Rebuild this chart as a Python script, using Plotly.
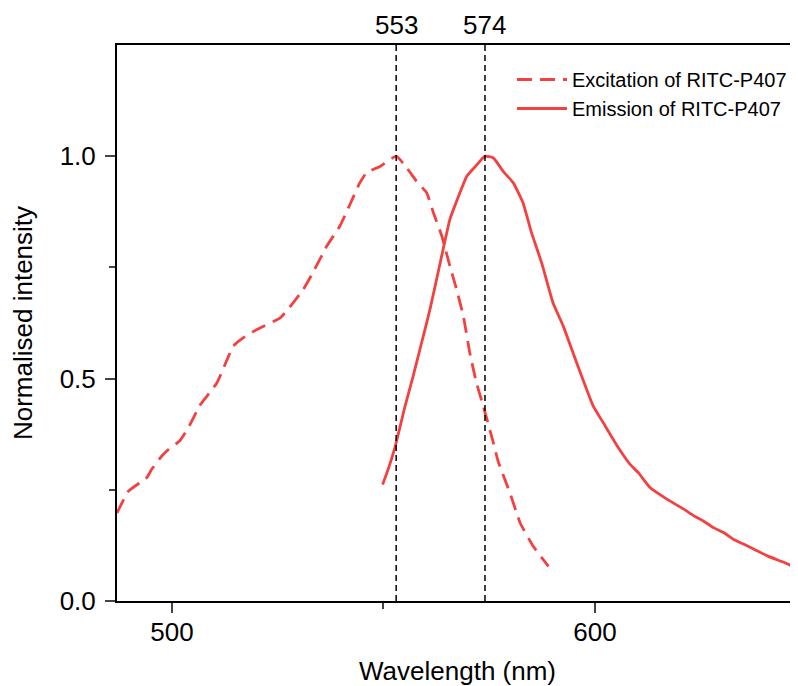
import plotly.graph_objects as go

# Excitation spectrum (dashed)
exc_nm = [487.0, 489.7, 494.0, 495.2, 497.6, 499.1, 501.9, 503.9, 506.6, 510.6,
          514.5, 516.9, 520.0, 525.5, 527.1, 531.0, 533.3, 536.6, 539.7, 542.1,
          544.4, 546.0, 549.2, 553.0, 555.5, 557.8, 560.2, 561.8, 563.8, 565.7,
          567.3, 568.9, 570.4, 572.0, 573.6, 576.0, 577.1, 579.9, 582.3, 585.4, 589.0]
exc_int = [0.198, 0.247, 0.277, 0.296, 0.326, 0.340, 0.361, 0.390, 0.440, 0.490,
           0.573, 0.592, 0.610, 0.636, 0.652, 0.700, 0.738, 0.798, 0.843, 0.892,
           0.940, 0.963, 0.977, 1.000, 0.974, 0.944, 0.918, 0.873, 0.820, 0.753,
           0.700, 0.640, 0.558, 0.490, 0.438, 0.355, 0.314, 0.243, 0.176, 0.123, 0.078]

# Emission spectrum (solid)
em_nm = [549.8, 551.1, 552.7, 555.1, 557.0, 559.0, 561.0, 563.4, 565.7, 567.3,
         569.7, 572.1, 574.0, 576.0, 578.3, 580.7, 583.0, 585.0, 587.4, 590.1,
         592.5, 595.7, 599.6, 602.0, 605.5, 608.3, 610.3, 613.0, 617.0, 620.9,
         623.3, 625.6, 628.0, 630.4, 632.7, 635.1, 637.5, 640.6, 644.6, 648.0, 650.0]
em_int = [0.262, 0.296, 0.345, 0.438, 0.505, 0.580, 0.656, 0.760, 0.858, 0.899,
          0.955, 0.981, 1.000, 0.996, 0.966, 0.940, 0.895, 0.828, 0.760, 0.670,
          0.618, 0.535, 0.438, 0.400, 0.345, 0.307, 0.288, 0.255, 0.229, 0.207,
          0.192, 0.180, 0.165, 0.154, 0.139, 0.128, 0.117, 0.102, 0.087, 0.073, 0.066]

peaks = [553, 574]

RED = '#F24141'
FONT = 'Liberation Sans, Arial, sans-serif'

fig = go.Figure()
fig.add_trace(go.Scatter(
    name='Excitation of RITC-P407', x=exc_nm, y=exc_int, mode='lines',
    line=dict(color=RED, width=2.8, dash='15px,8px', shape='spline', smoothing=0.4)))
fig.add_trace(go.Scatter(
    name='Emission of RITC-P407', x=em_nm, y=em_int, mode='lines',
    line=dict(color=RED, width=2.8, shape='spline', smoothing=0.4)))

for p in peaks:
    fig.add_shape(type='line', x0=p, x1=p, y0=0, y1=1, xref='x', yref='paper',
                  line=dict(color='black', width=1.5, dash='6px,4px'))
    fig.add_annotation(x=p, y=1, xref='x', yref='paper', text=str(p),
                       showarrow=False, yanchor='bottom', yshift=3,
                       font=dict(size=26, color='black', family=FONT))

# page body has an 8px margin, margins below account for it
fig.update_layout(
    width=790, height=678,
    margin=dict(l=109, r=0, t=37, b=85),
    plot_bgcolor='white', paper_bgcolor='white',
    font=dict(family=FONT, color='black', size=26),
    legend=dict(x=0.580, y=0.973, xanchor='left', yanchor='top',
                bgcolor='rgba(0,0,0,0)', font=dict(size=20),
                tracegroupgap=0, itemwidth=50),
    xaxis=dict(
        range=[487, 648], showgrid=False, zeroline=False,
        showline=True, linecolor='black', linewidth=2, mirror=True,
        tickvals=[500, 600], ticks='outside', ticklen=10, tickwidth=2,
        minor=dict(tickvals=[550], ticks='outside', ticklen=6, tickwidth=2),
        tickfont=dict(size=26), ticklabelstandoff=-3,
        title=dict(text='Wavelength (nm)', font=dict(size=26), standoff=22)),
    yaxis=dict(
        range=[0, 1.25], showgrid=False, zeroline=False,
        showline=True, linecolor='black', linewidth=2, mirror=False,
        tickvals=[0, 0.5, 1.0], ticktext=['0.0', '0.5', '1.0'],
        ticks='outside', ticklen=10, tickwidth=2,
        minor=dict(tickvals=[0.25, 0.75], ticks='outside', ticklen=6, tickwidth=2),
        tickfont=dict(size=26), ticklabelstandoff=4,
        title=dict(text='Normalised intensity', font=dict(size=26), standoff=21)),
)

fig.write_html('out.html')
